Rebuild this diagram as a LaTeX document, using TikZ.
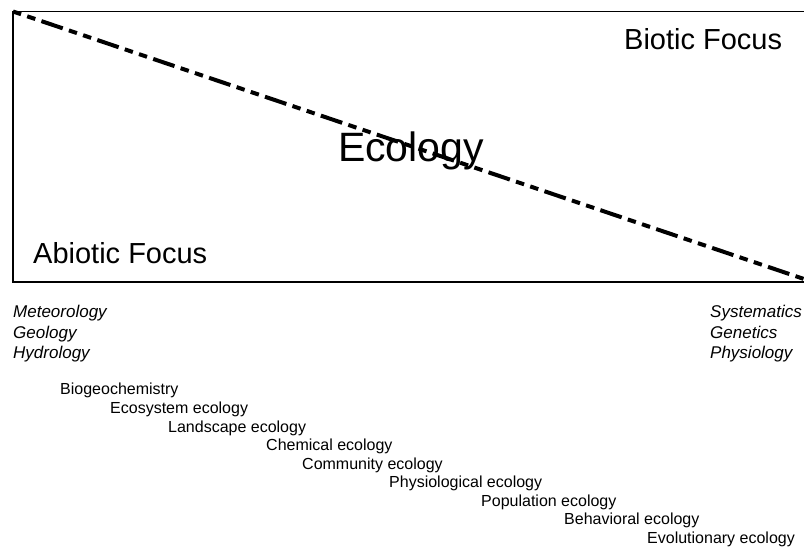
\documentclass[tikz,border=0pt]{standalone}
\usepackage{fontspec}
\setmainfont{Liberation Sans}
\begin{document}
\begin{tikzpicture}[x=1pt,y=-1pt,
  frame/.style={line width=1.4pt, black},
  trend/.style={line width=4pt, black,
    dash pattern=on 8.5pt off 6.5pt on 8.5pt off 6.5pt on 22.5pt off 6.5pt},
  focus/.style={anchor=base west, inner sep=0pt, font=\fontsize{29}{34}\selectfont},
  title/.style={anchor=base, inner sep=0pt, font=\fontsize{41}{48}\selectfont},
  field/.style={anchor=base west, inner sep=0pt, font=\fontsize{17}{20}\selectfont\itshape},
  branch/.style={anchor=base west, inner sep=0pt, font=\fontsize{16}{19}\selectfont},
]
\useasboundingbox (0,0) rectangle (804,548);

% open frame: top, left and bottom edges
\coordinate (tl) at (13,11.5);
\coordinate (tr) at (804,11.5);
\coordinate (bl) at (13,282);
\coordinate (br) at (804,282);
\draw[frame] (tr) -- (tl) -- (bl) -- (br);

% labels inside the frame
\node[focus] (biotic) at (624,50) {Biotic Focus};
\node[focus] (abiotic) at (33,264) {Abiotic Focus};
\node[title] (ecology) at (411,162) {Ecology};

% gradient line from abiotic to biotic
\coordinate (start) at (13,11.5);
\coordinate (end) at (804,279);
\draw[trend] (start) -- (end);

% neighbouring disciplines
\node[field] (met) at (13,318) {Meteorology};
\node[field] (geo) at (13,338.5) {Geology};
\node[field] (hyd) at (13,359) {Hydrology};
\node[field] (sys) at (710,318) {Systematics};
\node[field] (gen) at (710,338.5) {Genetics};
\node[field] (phy) at (710,359) {Physiology};

% subdisciplines of ecology, abiotic to biotic
\node[branch] (b1) at (60,395) {Biogeochemistry};
\node[branch] (b2) at (110,413.5) {Ecosystem ecology};
\node[branch] (b3) at (168,432) {Landscape ecology};
\node[branch] (b4) at (266,450.5) {Chemical ecology};
\node[branch] (b5) at (302,469) {Community ecology};
\node[branch] (b6) at (389,487.5) {Physiological ecology};
\node[branch] (b7) at (481,506) {Population ecology};
\node[branch] (b8) at (564,524.5) {Behavioral ecology};
\node[branch] (b9) at (647,543) {Evolutionary ecology};
\end{tikzpicture}
\end{document}
